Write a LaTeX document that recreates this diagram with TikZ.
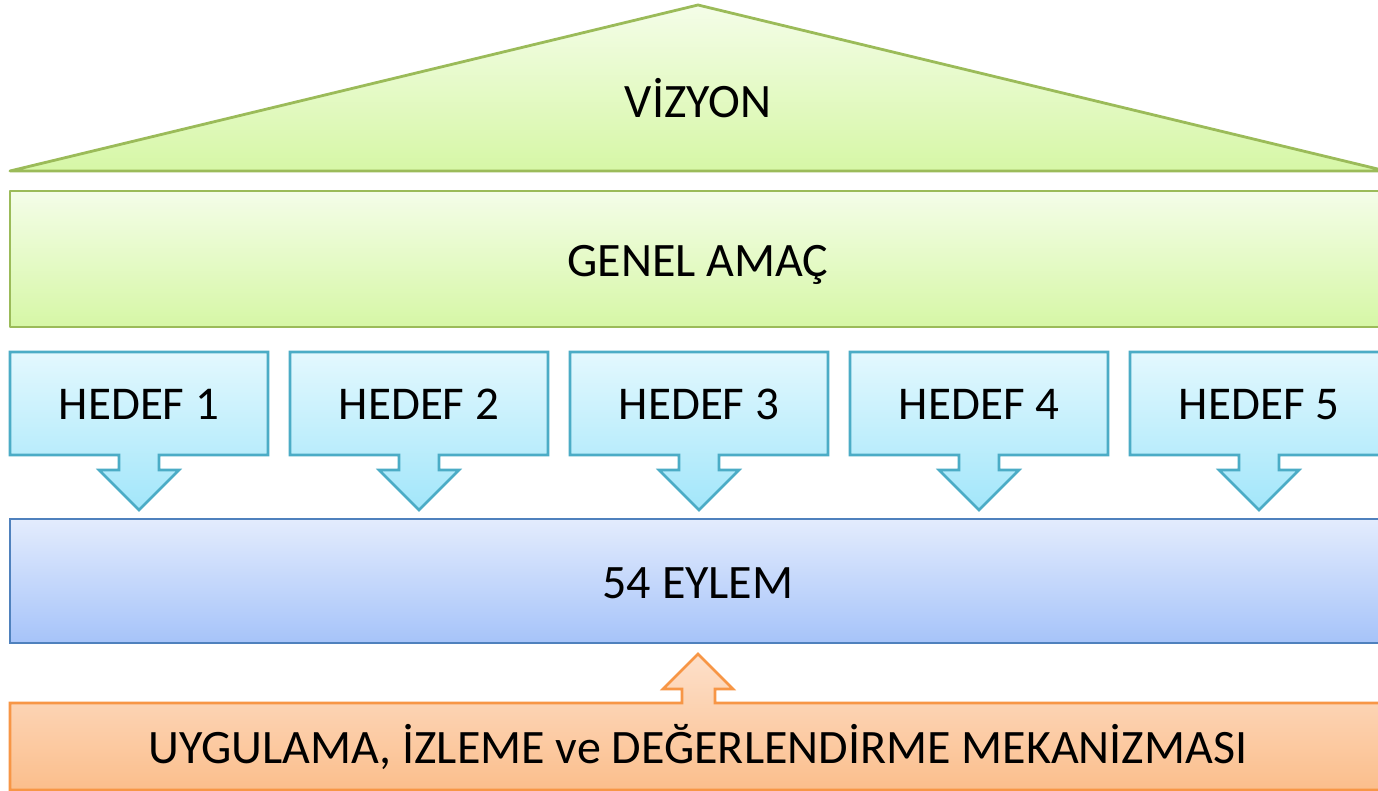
\documentclass[tikz,border=0pt]{standalone}
\usepackage{fontspec}
\setmainfont{Carlito}
\definecolor{grn}{HTML}{9BBB59}
\definecolor{grntop}{HTML}{F4FDE8}
\definecolor{grnbot}{HTML}{D6F7A6}
\definecolor{cyn}{HTML}{4BACC6}
\definecolor{cyntop}{HTML}{E3F8FE}
\definecolor{cynbot}{HTML}{A2E6FA}
\definecolor{blu}{HTML}{4F81BD}
\definecolor{blutop}{HTML}{E3ECFD}
\definecolor{blubot}{HTML}{A6C3F9}
\definecolor{org}{HTML}{F79646}
\definecolor{orgtop}{HTML}{FDE0CA}
\definecolor{orgbot}{HTML}{FBBE8C}
\tikzset{
  lbl/.style={anchor=base, font=\fontsize{48}{56}\selectfont, text=black, inner sep=0pt},
  hlbl/.style={lbl, font=\fontsize{47}{56}\selectfont},
  greenshape/.style={draw=grn, line width=2.8pt, top color=grntop, bottom color=grnbot, line join=round},
  hedefshape/.style={draw=cyn, line width=2.6pt, top color=cyntop, bottom color=cynbot, line join=miter},
  eylemshape/.style={draw=blu, line width=2.6pt, top color=blutop, bottom color=blubot},
  orgshape/.style={draw=org, line width=2.6pt, top color=orgtop, bottom color=orgbot, line join=miter}
}
\begin{document}
\begin{tikzpicture}[x=1pt,y=-1pt]
\clip (0,0) rectangle (1378,791);
\fill[white] (0,0) rectangle (1378,791);
% vision triangle
\path[greenshape] (10,171) -- (698,5) -- (1386,171) -- cycle;
\node[lbl] (vizyon) at (698,118) {VİZYON};
% general aim
\path[greenshape] (10,191) rectangle (1386,327);
\node[lbl] (amac) at (698,277) {GENEL AMAÇ};
% goals
\foreach \i/\L in {1/10,2/290,3/570,4/850,5/1130}{
  \pgfmathsetmacro{\R}{\L+258}
  \pgfmathsetmacro{\C}{\L+129}
  \path[hedefshape] (\L,352) -- (\R,352) -- (\R,455) -- (\C+20,455) -- (\C+20,470)
     -- (\C+40,470) -- (\C,510) -- (\C-40,470) -- (\C-20,470) -- (\C-20,455)
     -- (\L,455) -- cycle;
  \node[hlbl] (hedef\i) at (\C,419) {HEDEF \i};
}
% actions
\path[eylemshape] (10,519) rectangle (1386,643);
\node[lbl] (eylem) at (698,598) {54 EYLEM};
% mechanism
\path[orgshape] (10,703) -- (682,703) -- (682,689) -- (663,689) -- (698,654)
   -- (733,689) -- (715,689) -- (715,703) -- (1386,703) -- (1386,790) -- (10,790) -- cycle;
\node[lbl] (mekanizma) at (698,763) {UYGULAMA, İZLEME ve DEĞERLENDİRME MEKANİZMASI};
\end{tikzpicture}
\end{document}
